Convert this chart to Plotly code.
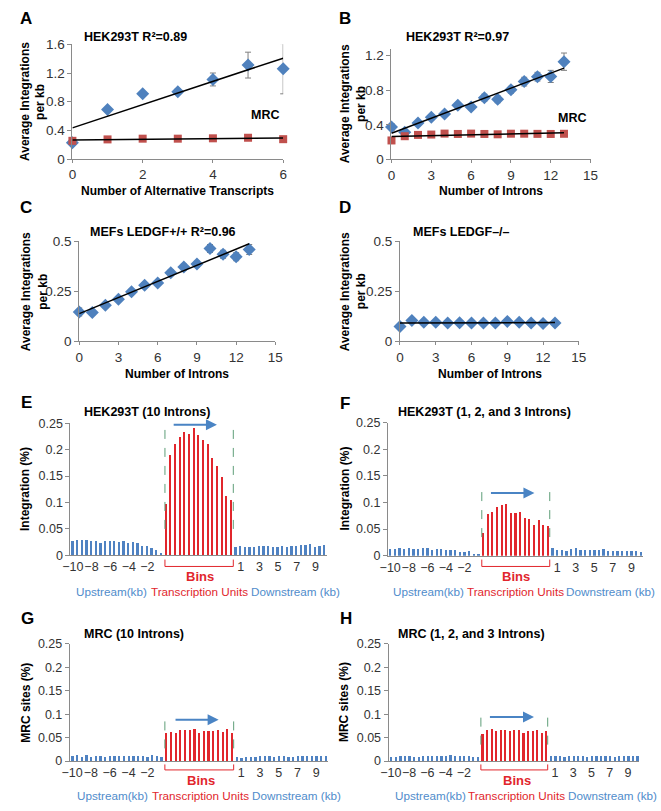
import numpy as np
import plotly.graph_objects as go

W, H = 661, 811

# A - alternative transcripts
alt_transcripts = [0, 1, 2, 3, 4, 5, 6]
hek_alt = [0.23, 0.69, 0.91, 0.94, 1.11, 1.31, 1.26]
hek_alt_err = [0.02, 0.03, 0.03, 0.04, 0.09, 0.18, 0.35]
mrc_alt = [0.255, 0.275, 0.285, 0.285, 0.29, 0.298, 0.278]
mrc_alt_err = [0.015, 0.01, 0.01, 0.01, 0.01, 0.01, 0.01]

# B - introns, HEK293T
introns = list(range(14))
hek_introns = [0.374, 0.313, 0.419, 0.487, 0.525, 0.626, 0.604, 0.713, 0.694, 0.804, 0.898, 0.955, 0.958, 1.128]
hek_introns_err = [0.04, 0.03, 0.03, 0.03, 0.03, 0.03, 0.03, 0.04, 0.04, 0.04, 0.05, 0.05, 0.07, 0.10]
mrc_introns = [0.219, 0.268, 0.283, 0.287, 0.298, 0.294, 0.298, 0.294, 0.29, 0.297, 0.297, 0.295, 0.294, 0.296]
mrc_introns_err = [0.03, 0.015, 0.01, 0.01, 0.01, 0.01, 0.01, 0.01, 0.01, 0.01, 0.01, 0.01, 0.01, 0.01]

# C / D - MEFs
mef_pos = [0.147, 0.144, 0.180, 0.211, 0.248, 0.281, 0.292, 0.343, 0.371, 0.386, 0.464, 0.435, 0.423, 0.459]
mef_pos_err = [0.02, 0.012, 0.012, 0.012, 0.012, 0.012, 0.012, 0.015, 0.015, 0.015, 0.02, 0.02, 0.02, 0.025]
mef_neg = [0.075, 0.105, 0.096, 0.096, 0.092, 0.093, 0.092, 0.092, 0.092, 0.10, 0.096, 0.092, 0.09, 0.092]
mef_neg_err = [0.005] * 14

# E-H - bins (upstream 0.5 kb bins, transcription unit bins, downstream 0.5 kb bins)
e_up = [0.026, 0.028, 0.028, 0.028, 0.026, 0.026, 0.023, 0.027, 0.027, 0.027, 0.025, 0.026, 0.024, 0.025, 0.023, 0.018, 0.017, 0.013, 0.009, 0.004]
e_tu = [0.097, 0.190, 0.210, 0.223, 0.233, 0.230, 0.241, 0.228, 0.217, 0.210, 0.183, 0.168, 0.147, 0.112, 0.104]
e_down = [0.015, 0.018, 0.015, 0.015, 0.015, 0.017, 0.017, 0.018, 0.016, 0.015, 0.017, 0.015, 0.017, 0.018, 0.020, 0.020, 0.022, 0.016, 0.017, 0.020]

f_up = [0.012, 0.012, 0.014, 0.012, 0.015, 0.012, 0.012, 0.014, 0.014, 0.011, 0.012, 0.012, 0.011, 0.011, 0.011, 0.008, 0.007, 0.009, 0.004, 0.002]
f_tu = [0.043, 0.078, 0.083, 0.091, 0.095, 0.098, 0.081, 0.081, 0.083, 0.072, 0.069, 0.058, 0.067, 0.058, 0.057]
f_down = [0.014, 0.011, 0.011, 0.009, 0.012, 0.014, 0.010, 0.010, 0.011, 0.011, 0.010, 0.012, 0.009, 0.009, 0.009, 0.009, 0.009, 0.009, 0.009, 0.008]

g_up = [0.012, 0.013, 0.010, 0.013, 0.010, 0.012, 0.012, 0.010, 0.011, 0.011, 0.011, 0.011, 0.011, 0.011, 0.011, 0.011, 0.010, 0.013, 0.011, 0.009]
g_tu = [0.061, 0.063, 0.061, 0.067, 0.067, 0.067, 0.069, 0.061, 0.065, 0.065, 0.064, 0.067, 0.062, 0.069, 0.061]
g_down = [0.010, 0.008, 0.009, 0.010, 0.009, 0.012, 0.011, 0.011, 0.010, 0.011, 0.011, 0.010, 0.010, 0.011, 0.011, 0.012, 0.011, 0.011, 0.012, 0.011]

h_up = [0.009, 0.009, 0.011, 0.011, 0.011, 0.010, 0.010, 0.011, 0.011, 0.011, 0.011, 0.012, 0.011, 0.013, 0.012, 0.011, 0.012, 0.011, 0.010, 0.009]
h_tu = [0.059, 0.067, 0.069, 0.064, 0.066, 0.067, 0.065, 0.067, 0.066, 0.061, 0.064, 0.065, 0.066, 0.061, 0.065]
h_down = [0.012, 0.011, 0.011, 0.009, 0.011, 0.011, 0.011, 0.011, 0.010, 0.011, 0.011, 0.011, 0.011, 0.011, 0.010, 0.011, 0.011, 0.011, 0.011, 0.012]

up_labels = ["\u221210", "\u22128", "\u22126", "\u22124", "\u22122"]
down_labels = ["1", "3", "5", "7", "9"]

BLUE = "#4f81bd"
RED = "#c0504d"
BAR_BLUE = "#4f82c2"
BAR_RED = "#e1262c"
TXT_BLUE = "#4f8ccb"
AXIS = "#8a8a8a"
TICK = "#333333"
FONT = "Liberation Sans, Arial, sans-serif"

fig = go.Figure()


def sfx(n):
    return "" if n == 1 else str(n)


def px(x, y):
    return x / W, 1 - y / H


def set_axes(n, xdom, ydom, xrange, yrange, xdtick=None, ydtick=None, xtickvals=None, xticktext=None,
             tsize=13.5):
    s = sfx(n)
    xa = dict(domain=[xdom[0] / W, xdom[1] / W], range=xrange, anchor="y" + s,
              showgrid=False, zeroline=False, showline=True, linecolor=AXIS, linewidth=1,
              ticks="outside", ticklen=3, tickcolor=AXIS, tickangle=0,
              tickfont=dict(size=tsize, color=TICK, family=FONT))
    if xtickvals is not None:
        xa.update(tickmode="array", tickvals=xtickvals, ticktext=xticktext, ticks="")
    else:
        xa.update(dtick=xdtick, tick0=0)
    ya = dict(domain=[1 - ydom[1] / H, 1 - ydom[0] / H], range=yrange, anchor="x" + s,
              showgrid=False, zeroline=False, showline=True, linecolor=AXIS, linewidth=1,
              ticks="outside", ticklen=4, tickcolor=AXIS, dtick=ydtick, tick0=0,
              tickfont=dict(size=tsize, color=TICK, family=FONT))
    fig.update_layout(**{"xaxis" + s: xa, "yaxis" + s: ya})


def add_points(n, x, y, err, color, symbol, size):
    s = sfx(n)
    fig.add_trace(go.Scatter(
        x=x, y=y, mode="markers", xaxis="x" + s, yaxis="y" + s, cliponaxis=False,
        marker=dict(symbol=symbol, size=size, color=color, line=dict(width=0)),
        error_y=dict(type="data", array=err, color="#808080", thickness=1, width=3),
        showlegend=False))


def add_trend(n, x, y):
    s = sfx(n)
    k, b = np.polyfit(x, y, 1)
    xs = [x[0], x[-1]]
    fig.add_trace(go.Scatter(
        x=xs, y=[k * v + b for v in xs], mode="lines", xaxis="x" + s, yaxis="y" + s,
        line=dict(color="black", width=1.5), cliponaxis=False, showlegend=False))


def text(x, y, t, size=12, color="black", bold=False, xanchor="center", angle=0, family=FONT):
    if bold:
        t = "<b>" + t + "</b>"
    xp, yp = px(x, y)
    fig.add_annotation(x=xp, y=yp, xref="paper", yref="paper", text=t, showarrow=False,
                       xanchor=xanchor, yanchor="middle", textangle=angle,
                       font=dict(size=size, color=color, family=family))


def ytitle(x1, x2, y, line1, line2=None):
    text(x1, y, line1, size=12, bold=True, angle=-90)
    if line2:
        text(x2, y, line2, size=12, bold=True, angle=-90)


# ---------- scatter panels ----------
set_axes(1, (66, 282), (38, 155), [0, 6], [0, 1.6], xdtick=2, ydtick=0.4)
add_points(1, alt_transcripts, hek_alt, hek_alt_err, BLUE, "diamond", 10)
add_points(1, alt_transcripts, mrc_alt, mrc_alt_err, RED, "square", 8)
add_trend(1, alt_transcripts, hek_alt)
add_trend(1, alt_transcripts, mrc_alt)

set_axes(2, (393, 597), (42.3, 155.3), [0, 15], [0, 1.28], xdtick=3, ydtick=0.4)
add_points(2, introns, hek_introns, hek_introns_err, BLUE, "diamond", 10)
add_points(2, introns, mrc_introns, mrc_introns_err, RED, "square", 8)
add_trend(2, introns, hek_introns)
add_trend(2, introns, mrc_introns)

set_axes(3, (73, 274), (238.7, 340.7), [0, 15], [0, 0.5], xdtick=3, ydtick=0.25)
add_points(3, introns, mef_pos, mef_pos_err, BLUE, "diamond", 10)
add_trend(3, introns, mef_pos)

set_axes(4, (401.7, 585), (238.7, 340.7), [0, 15], [0, 0.5], xdtick=3, ydtick=0.25)
add_points(4, introns, mef_neg, mef_neg_err, BLUE, "diamond", 10)
add_trend(4, introns, mef_neg)

# ---------- bin panels ----------
hist_panels = [
    dict(n=5, up=e_up, tu=e_tu, down=e_down, xdom=(64, 327), ydom=(424, 558.7),
         arrow=(21.3, 30.9, 0.247), dash=(0.245, 0.05), bracket=(563, 570), bins=580.7, row=596,
         row_x=(106.5, 196.5, 247)),
    dict(n=6, up=f_up, tu=f_tu, down=f_down, xdom=(389.3, 650.7), ydom=(423.7, 559),
         arrow=(21.4, 31.1, 0.118), dash=(0.12, 0.035), bracket=(563, 570), bins=580.7, row=596,
         row_x=(430.7, 520.5, 570)),
    dict(n=7, up=g_up, tu=g_tu, down=g_down, xdom=(63.3, 328), ydom=(648.7, 768.3),
         arrow=(21.7, 31.2, 0.088), dash=(0.093, 0.027), bracket=(771.7, 777.3), bins=788.3, row=803,
         row_x=(107, 197.5, 247.5)),
    dict(n=8, up=h_up, tu=h_tu, down=h_down, xdom=(390, 647), ydom=(648.7, 768.3),
         arrow=(21.4, 31.4, 0.094), dash=(0.094, 0.035), bracket=(771.7, 777.3), bins=788.3, row=803,
         row_x=(432.7, 521.3, 571.7)),
]

for p in hist_panels:
    n = p["n"]
    s = sfx(n)
    up_x = list(range(len(p["up"])))
    tu_x = list(range(len(p["up"]), len(p["up"]) + len(p["tu"])))
    down_x = list(range(tu_x[-1] + 1, tu_x[-1] + 1 + len(p["down"])))
    total = len(up_x) + len(tu_x) + len(down_x)
    tickvals = up_x[0:20:4] + down_x[1:20:4]
    set_axes(n, p["xdom"], p["ydom"], [-0.5, total - 0.5], [0, 0.25], ydtick=0.05,
             xtickvals=tickvals, xticktext=up_labels + down_labels, tsize=12.5)
    fig.add_trace(go.Bar(x=up_x, y=p["up"], width=0.5, marker=dict(color=BAR_BLUE, line=dict(width=0)),
                         xaxis="x" + s, yaxis="y" + s, showlegend=False))
    fig.add_trace(go.Bar(x=tu_x, y=p["tu"], width=0.45, marker=dict(color=BAR_RED, line=dict(width=0)),
                         xaxis="x" + s, yaxis="y" + s, showlegend=False))
    fig.add_trace(go.Bar(x=down_x, y=p["down"], width=0.5, marker=dict(color=BAR_BLUE, line=dict(width=0)),
                         xaxis="x" + s, yaxis="y" + s, showlegend=False))

    left, right = tu_x[0] - 0.25, tu_x[-1] + 0.4
    for xv in (left, right):
        fig.add_shape(type="line", xref="x" + s, yref="y" + s, x0=xv, x1=xv,
                      y0=p["dash"][1], y1=p["dash"][0],
                      line=dict(color="#5e9e78", width=1, dash="dash"))

    t0, t1, ay = p["arrow"]
    fig.add_annotation(x=t1, y=ay, ax=t0, ay=ay, xref="x" + s, yref="y" + s,
                       axref="x" + s, ayref="y" + s, text="", showarrow=True,
                       arrowhead=2, arrowsize=1.1, arrowwidth=2, arrowcolor="#4a84c4", standoff=0)

    b_top, b_bot = p["bracket"]
    yt, yb = 1 - b_top / H, 1 - b_bot / H
    fig.add_shape(type="path", xref="x" + s, yref="paper",
                  path=f"M {left},{yt} L {left},{yb} L {right},{yb} L {right},{yt}",
                  line=dict(color=BAR_RED, width=1))

    rx = p["row_x"]
    text(rx[1], p["bins"], "Bins", size=13, color=BAR_RED, bold=True)
    text(rx[0], p["row"], "Upstream(kb)", size=11.7, color=TXT_BLUE)
    text(rx[1], p["row"], "Transcription Units", size=11.7, color=BAR_RED)
    text(rx[2], p["row"], "Downstream (kb)", size=11.7, color=TXT_BLUE, xanchor="left")

# ---------- titles and labels ----------
for letter, x, y in [("A", 10, 12), ("B", 337, 12), ("C", 10, 204), ("D", 337, 204),
                     ("E", 11, 403), ("F", 338, 404), ("G", 11, 623), ("H", 338, 623)]:
    text(x, y, letter, size=17, bold=True, xanchor="left")

for t, x, y in [("HEK293T R\u00b2=0.89", 76, 31), ("HEK293T R\u00b2=0.97", 406, 31),
                ("MEFs LEDGF+/+ R\u00b2=0.96", 82, 229), ("MEFs LEDGF\u2013/\u2013", 413, 229),
                ("HEK293T (10 Introns)", 76, 412.7), ("HEK293T (1, 2, and 3 Introns)", 398, 412.7),
                ("MRC (10 Introns)", 76, 639.3), ("MRC (1, 2, and 3 Introns)", 398, 639.3)]:
    text(x, y, t, size=12.5, bold=True, xanchor="left")

text(263, 110, "MRC", size=12.5, bold=True)
text(578, 112.7, "MRC", size=12.5, bold=True)

ytitle(16.7, 33, 96.5, "Average Integrations", "per kb")
ytitle(345, 361, 98.5, "Average Integrations", "per kb")
ytitle(18, 35, 290, "Average Integrations", "per kb")
ytitle(345, 361.3, 290, "Average Integrations", "per kb")
ytitle(17.5, None, 491, "Integration (%)")
ytitle(345, None, 491, "Integration (%)")
ytitle(18.7, None, 708.5, "MRC sites (%)")
ytitle(345, None, 708.5, "MRC sites (%)")

text(174, 187, "Number of Alternative Transcripts", size=12, bold=True)
text(495, 187, "Number of Introns", size=12, bold=True)
text(173.5, 374, "Number of Introns", size=12, bold=True)
text(494, 374, "Number of Introns", size=12, bold=True)

fig.update_layout(
    width=W, height=H,
    margin=dict(l=0, r=0, t=0, b=0),
    paper_bgcolor="white", plot_bgcolor="white",
    font=dict(family=FONT, color="black"),
    showlegend=False,
    bargap=0,
)

fig.write_html("out.html", post_script="document.body.style.margin = '0';",
               config={"displayModeBar": False})
